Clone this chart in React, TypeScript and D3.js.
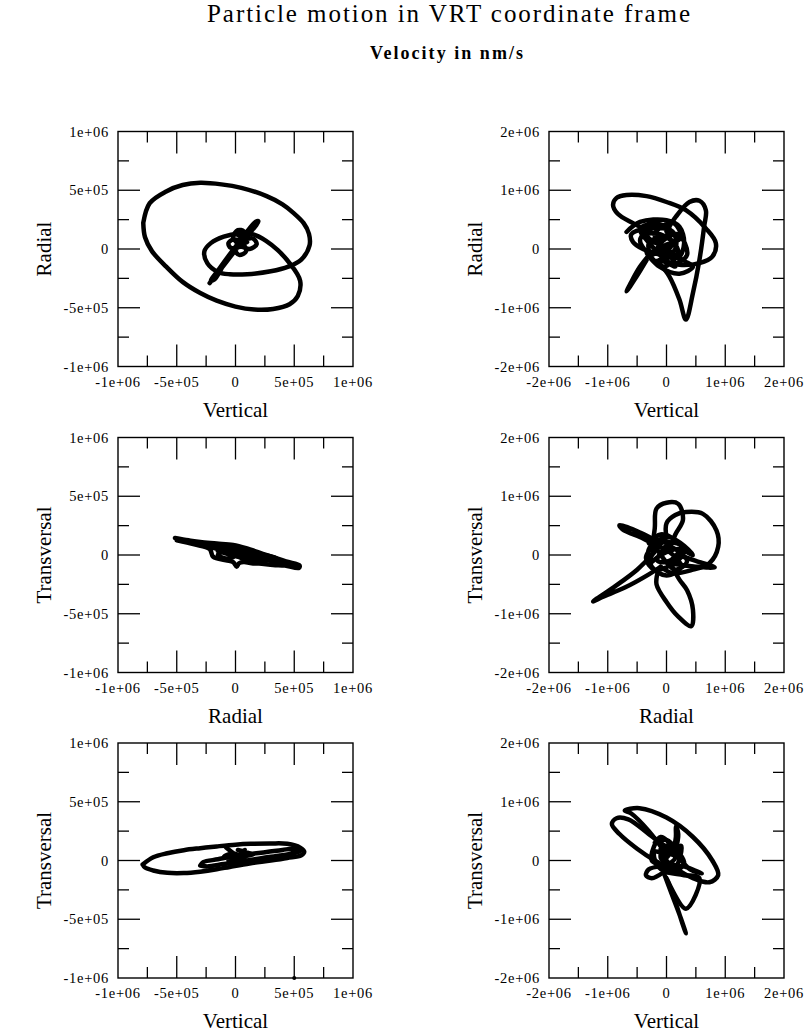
import React from "react";
import * as d3 from "d3";

type Pt = [number, number];

// ---------- axis ticks ----------
const majorSmall = [-1e6, -5e5, 0, 5e5, 1e6];
const minorSmall = [-7.5e5, -2.5e5, 2.5e5, 7.5e5];
const labelsSmall = ["-1e+06", "-5e+05", "0", "5e+05", "1e+06"];
const majorLarge = [-2e6, -1e6, 0, 1e6, 2e6];
const minorLarge = [-1.5e6, -5e5, 5e5, 1.5e6];
const labelsLarge = ["-2e+06", "-1e+06", "0", "1e+06", "2e+06"];

// ---------- panel 1: Vertical vs Radial (left) ----------
const vrLoop: Pt[] = [
  [-7.85e5, 2.23e5], [-7.3e5, 3.9e5], [-5.9e5, 4.9e5], [-4.5e5, 5.45e5], [-3.0e5, 5.63e5],
  [-1.2e5, 5.5e5], [0.5e5, 5.2e5], [2.65e5, 4.5e5], [4.0e5, 3.8e5], [4.9e5, 3.1e5],
  [5.8e5, 2.2e5], [6.25e5, 1.3e5], [6.3e5, 0.3e5], [5.6e5, -0.9e5], [4.5e5, -1.5e5],
  [3.0e5, -1.9e5], [1.0e5, -2.15e5], [-0.5e5, -2.15e5], [-1.5e5, -1.95e5], [-2.4e5, -1.2e5],
  [-2.65e5, -0.2e5], [-2.1e5, 0.5e5], [-1.0e5, 1.05e5], [0.3e5, 1.3e5], [1.5e5, 1.25e5],
  [2.6e5, 0.7e5], [3.6e5, -0.1e5], [4.6e5, -1.2e5], [5.5e5, -2.7e5], [5.3e5, -4.0e5],
  [4.6e5, -4.7e5], [3.2e5, -5.1e5], [1.6e5, -5.15e5], [0, -4.9e5], [-1.6e5, -4.4e5],
  [-3.0e5, -3.75e5], [-4.5e5, -2.8e5], [-5.9e5, -1.5e5], [-7.1e5, -0.2e5], [-7.7e5, 1.0e5],
  [-7.85e5, 2.23e5],
];
const vrCore: Pt[] = [
  [-2.2e5, -2.9e5], [-1.0e5, -1.4e5], [0, -0.1e5], [1.0e5, 1.1e5], [1.95e5, 2.35e5],
  [1.7e5, 2.3e5], [0.7e5, 1.1e5], [-0.3e5, -0.2e5], [-1.4e5, -1.7e5], [-2.1e5, -2.7e5],
  [-1.8e5, -2.6e5], [-0.8e5, -1.0e5], [0.2e5, 0.3e5], [-0.2e5, 1.0e5], [0.2e5, 1.6e5],
  [0.7e5, 1.5e5], [0.8e5, 0.9e5], [1.5e5, 0.9e5], [1.8e5, 0.4e5], [1.2e5, 0.0],
  [0.5e5, 0.2e5], [-0.4e5, 0.1e5], [-0.6e5, 0.5e5], [-0.2e5, 0.8e5], [0.5e5, 0.6e5],
  [0.9e5, -0.2e5], [0.3e5, -0.5e5], [-0.2e5, -0.1e5], [-0.5e5, -0.6e5], [0.4e5, 0.4e5],
  [1.0e5, 0.6e5], [0.2e5, 1.2e5],
];

// ---------- panel 2: Radial vs Transversal (left) ----------
const rtBand: Pt[] = [
  [-5.15e5, 1.45e5], [-4.0e5, 1.25e5], [-3.0e5, 1.1e5], [-1.6e5, 0.98e5], [-0.2e5, 0.85e5],
  [0.9e5, 0.58e5], [2.6e5, 0.0], [4.3e5, -0.55e5], [5.45e5, -0.88e5], [5.4e5, -1.1e5],
  [4.2e5, -0.9e5], [3.2e5, -0.85e5], [2.0e5, -0.72e5], [1.5e5, -0.72e5], [0.7e5, -0.6e5],
  [0.3e5, -0.7e5], [0.1e5, -1.0e5], [-0.2e5, -0.6e5], [-0.8e5, -0.45e5], [-1.9e5, -0.15e5],
  [-2.2e5, 0.5e5], [-3.5e5, 0.9e5], [-5.0e5, 1.25e5],
];
const rtFill: Pt[] = [
  [-4.0e5, 1.1e5], [-2.0e5, 0.7e5], [0, 0.3e5], [2.0e5, -0.3e5], [4.0e5, -0.7e5],
  [5.0e5, -0.95e5], [3.0e5, -0.5e5], [1.0e5, 0.0], [-1.0e5, 0.4e5], [-3.0e5, 0.9e5],
  [-1.5e5, 0.6e5], [0.5e5, -0.2e5], [2.5e5, -0.55e5], [1.0e5, -0.4e5], [-0.5e5, 0.1e5],
  [-1.2e5, 0.2e5], [-1.5e5, 0.0], [-0.5e5, -0.3e5], [0.5e5, 0.5e5], [-1.0e5, 0.75e5],
  [-2.0e5, 0.95e5], [-0.5e5, 0.65e5], [1.5e5, 0.2e5], [3.5e5, -0.3e5], [2.0e5, -0.5e5],
  [0, -0.1e5], [-1.5e5, 0.35e5],
];

// ---------- panel 3: Vertical vs Transversal (left) ----------
const vtOuter: Pt[] = [
  [-7.9e5, -0.34e5], [-7.0e5, 0.28e5], [-5.8e5, 0.62e5], [-4.4e5, 0.88e5], [-3.0e5, 1.05e5],
  [-1.6e5, 1.2e5], [0, 1.35e5], [1.3e5, 1.42e5], [3.0e5, 1.45e5], [4.4e5, 1.42e5],
  [5.5e5, 1.1e5], [5.85e5, 0.75e5], [5.6e5, 0.45e5], [4.4e5, 0.22e5], [3.0e5, 0.0],
  [1.2e5, -0.25e5], [-0.5e5, -0.55e5], [-1.6e5, -0.75e5], [-3.0e5, -0.95e5], [-4.4e5, -1.07e5],
  [-5.8e5, -1.05e5], [-7.0e5, -0.85e5], [-7.7e5, -0.6e5], [-7.9e5, -0.34e5],
];
const vtInner: Pt[] = [
  [-3.0e5, -0.43e5], [-2.75e5, -0.14e5], [-1.5e5, 0.1e5], [-0.2e5, 0.35e5], [1.2e5, 0.55e5],
  [2.65e5, 0.72e5], [4.0e5, 0.9e5], [4.95e5, 1.0e5], [5.5e5, 0.8e5], [4.8e5, 0.6e5],
  [3.8e5, 0.42e5], [2.2e5, 0.2e5], [0.4e5, -0.1e5], [-1.0e5, -0.3e5], [-2.4e5, -0.5e5],
  [-3.0e5, -0.43e5],
];
const vtCore: Pt[] = [
  [-0.8e5, 1.1e5], [0, 0.5e5], [0.9e5, 0.0], [0.4e5, 0.2e5], [-0.2e5, 0.1e5],
  [0.3e5, 0.5e5], [0.8e5, 0.9e5], [0.2e5, 0.4e5], [-0.6e5, 0.0], [0, -0.2e5],
  [0.5e5, 0.3e5], [-0.3e5, 0.6e5], [-1.0e5, 0.3e5], [1.5e5, 0.5e5], [0.2e5, 0.9e5],
];
const vtDot: Pt[] = [[5e5, -1e6]];

// ---------- panel 4: Vertical vs Radial (right) ----------
const vr2Ellipse: Pt[] = [
  [-2.3e5, 2.7e5], [-5.7e5, 4.4e5], [-8.3e5, 6.0e5], [-9.1e5, 7.5e5], [-8.5e5, 8.7e5],
  [-6.8e5, 9.2e5], [-3.4e5, 9.0e5], [0, 8.0e5], [3.3e5, 6.6e5], [6.7e5, 3.5e5],
  [8.4e5, 1.0e5], [7.8e5, -1.3e5], [5.6e5, -2.4e5], [2.2e5, -2.7e5], [-1.2e5, -1.9e5],
];
const vr2Lobe: Pt[] = [
  [0, 3.0e5], [1.6e5, 5.5e5], [3.9e5, 8.0e5], [5.6e5, 8.2e5], [6.7e5, 6.6e5],
  [6.4e5, 3.8e5], [5.6e5, -1.9e5], [4.5e5, -7.5e5], [3.3e5, -1.2e6], [2.2e5, -8.6e5],
  [0.5e5, -4.7e5], [-1.2e5, -2.4e5],
];
const vr2Tail: Pt[] = [
  [-3.4e5, -1.9e5], [-5.1e5, -4.7e5], [-6.8e5, -7.2e5], [-6.2e5, -6.0e5], [-4.5e5, -3.0e5],
  [-2.5e5, -0.5e5],
];
const vr2Core: Pt[] = [
  [-6.8e5, 2.9e5], [-4.5e5, 4.6e5], [0, 4.9e5], [2.2e5, 3.8e5], [3.0e5, 1.0e5],
  [2.0e5, -1.5e5], [-1.0e5, -1.0e5], [-4.0e5, 0], [-5.7e5, 1.2e5], [-6.0e5, 2.5e5],
  [-3.0e5, 3.5e5], [1.0e5, 3.0e5], [1.5e5, 0], [-2.0e5, -2.0e5], [-3.0e5, 1.0e5],
  [0, 2.0e5], [2.0e5, -0.5e5], [-0.5e5, -3.0e5], [-3.4e5, -0.7e5], [-1.2e5, -3.0e5],
  [2.2e5, -4.2e5], [4.5e5, -3.0e5], [3.0e5, -2.0e5], [0, 0], [-2.0e5, 2.5e5],
  [1.0e5, 4.5e5], [2.5e5, 2.0e5], [-0.5e5, 0.5e5], [-2.5e5, -1.0e5], [-4.5e5, 1.5e5],
  [-2.0e5, 4.0e5], [0.5e5, 3.5e5], [-1.5e5, 1.0e5], [-3.5e5, 2.5e5], [-1.0e5, 2.5e5],
  [1.0e5, 1.0e5], [-0.5e5, -1.5e5], [1.5e5, -3.0e5], [0.5e5, -1.0e5], [-1.5e5, 0],
  [-0.5e5, 1.5e5], [2.0e5, 2.5e5], [3.5e5, -1.0e5], [1.0e5, -2.5e5], [-2.5e5, 0.5e5],
  [-4.5e5, 3.5e5], [-1.0e5, 4.2e5], [1.8e5, 1.5e5], [-1.0e5, -0.5e5],
];

// ---------- panel 5: Radial vs Transversal (right) ----------
const rt2Loop: Pt[] = [
  [0, 3.0e5], [0, 5.4e5], [1.5e5, 6.8e5], [3.3e5, 7.3e5], [6.2e5, 7.0e5],
  [8.5e5, 4.2e5], [8.8e5, 1.4e5], [7.3e5, -1.4e5], [4.5e5, -2.5e5], [1.1e5, -3.1e5],
  [-1.0e5, -2.0e5],
];
const rt2Upper: Pt[] = [
  [-2.5e5, 1.0e5], [-2.0e5, 4.5e5], [-1.7e5, 7.9e5], [0, 8.9e5], [2.0e5, 8.7e5],
  [2.8e5, 6.0e5], [1.5e5, 3.5e5], [0.5e5, 1.0e5],
];
const rt2SpikeL: Pt[] = [
  [-1.0e5, 2.0e5], [-4.5e5, 3.8e5], [-8.0e5, 5.1e5], [-7.5e5, 4.4e5], [-4.0e5, 2.8e5],
  [-1.5e5, 1.5e5],
];
const rt2SpikeLL: Pt[] = [
  [-2.0e5, 0.5e5], [-5.0e5, -2.5e5], [-9.0e5, -5.5e5], [-1.25e6, -7.9e5], [-1.1e6, -7.2e5],
  [-7.0e5, -5.5e5], [-3.0e5, -3.3e5], [-1.0e5, -2.0e5],
];
const rt2Lower: Pt[] = [
  [-1.5e5, -3.0e5], [-1.7e5, -5.0e5], [0, -8.0e5], [2.0e5, -1.05e6], [4.2e5, -1.21e6],
  [4.5e5, -9.3e5], [3.5e5, -6.0e5], [2.2e5, -4.2e5], [1.0e5, -2.0e5],
];
const rt2SpikeR: Pt[] = [
  [1.0e5, -1.5e5], [5.0e5, -2.0e5], [8.2e5, -2.1e5], [5.0e5, -1.0e5], [2.0e5, 0],
];
const rt2Core: Pt[] = [
  [-3.0e5, 2.0e5], [-1.0e5, 3.5e5], [1.5e5, 2.5e5], [3.0e5, 0.5e5], [1.0e5, -1.5e5],
  [-2.0e5, -2.5e5], [-3.5e5, -0.5e5], [-2.0e5, 1.5e5], [0.5e5, 0.5e5], [2.5e5, -2.0e5],
  [0, -3.5e5], [-2.5e5, -2.0e5], [-3.0e5, 1.0e5], [0.5e5, 3.0e5], [4.5e5, 0], [2.0e5, 1.0e5],
  [-1.0e5, 0], [-3.0e5, -1.5e5], [-1.0e5, 2.0e5], [2.5e5, 1.5e5], [0.5e5, -1.0e5],
  [-1.5e5, -1.0e5], [0, 1.5e5], [3.5e5, -1.0e5], [1.5e5, -2.5e5], [-1.5e5, 0.8e5],
];

// ---------- panel 6: Vertical vs Transversal (right) ----------
const vt2Ellipse: Pt[] = [
  [0, 1.0e5], [-3.0e5, 5.0e5], [-6.0e5, 8.0e5], [-7.1e5, 8.5e5], [-4.6e5, 8.9e5],
  [0, 7.3e5], [4.5e5, 4.0e5], [7.8e5, 0], [8.8e5, -2.5e5], [7.3e5, -3.7e5],
  [4.5e5, -3.0e5], [1.0e5, -1.0e5],
];
const vt2Left: Pt[] = [
  [1.0e5, 1.5e5], [-3.0e5, 4.5e5], [-6.5e5, 7.0e5], [-8.5e5, 7.2e5], [-9.3e5, 6.2e5],
  [-8.0e5, 4.5e5], [-5.0e5, 2.0e5], [-2.0e5, 0], [0, -1.0e5],
];
const vt2Tri: Pt[] = [
  [0, -3.0e5], [3.3e5, -8.2e5], [5.6e5, -3.0e5], [3.0e5, -2.5e5], [0, -2.0e5],
];
const vt2Spike: Pt[] = [
  [-0.5e5, -2.0e5], [1.0e5, -6.0e5], [2.5e5, -1.0e6], [3.3e5, -1.24e6], [2.8e5, -1.1e6],
  [1.5e5, -7.0e5], [0.2e5, -3.5e5],
];
const vt2Small: Pt[] = [
  [-1.0e5, -1.0e5], [-3.0e5, -1.5e5], [-3.5e5, -2.5e5], [-2.5e5, -3.0e5], [-0.5e5, -2.0e5],
];
const vt2Up: Pt[] = [
  [1.0e5, 1.0e5], [1.6e5, 4.0e5], [1.6e5, 5.8e5], [2.0e5, 4.5e5], [1.5e5, 1.5e5],
];
const vt2Core: Pt[] = [
  [-2.0e5, 3.0e5], [0, 3.5e5], [2.0e5, 1.5e5], [3.0e5, -0.5e5], [1.0e5, -2.0e5],
  [-1.5e5, -1.0e5], [-2.0e5, 1.5e5], [0.5e5, 1.0e5], [2.5e5, 2.5e5], [1.5e5, -1.0e5],
  [-1.0e5, 0.5e5], [0, 2.5e5], [4.0e5, -1.5e5], [6.0e5, -2.2e5], [3.0e5, -1.0e5],
  [0.5e5, -0.5e5], [-1.0e5, 2.0e5], [1.5e5, 0.5e5], [-0.5e5, -1.5e5], [2.0e5, -1.5e5],
  [-2.5e5, 0], [-1.0e5, 4.0e5], [1.0e5, 2.0e5], [-0.5e5, 0],
];

// ---------- layout ----------
const W = 809;
const H = 1032;
const SIZE = 235;
const colX = [118, 549];
const rowY = [131.5, 437.5, 743];
const SERIF = "'Liberation Serif', 'Times New Roman', serif";

interface PanelProps {
  x0: number;
  y0: number;
  lim: number;
  majors: number[];
  minors: number[];
  labels: string[];
  xTitle: string;
  yTitle: string;
  segments: Pt[][];
  dots?: Pt[];
}

function Panel(p: PanelProps) {
  const x = d3.scaleLinear().domain([-p.lim, p.lim]).range([p.x0, p.x0 + SIZE]);
  const y = d3.scaleLinear().domain([-p.lim, p.lim]).range([p.y0 + SIZE, p.y0]);
  const line = d3
    .line<Pt>()
    .x((d) => x(d[0]))
    .y((d) => y(d[1]))
    .curve(d3.curveCatmullRom.alpha(0.5));
  const bottom = p.y0 + SIZE;
  const right = p.x0 + SIZE;
  const MAJ = 22;
  const MIN = 11;
  const tickStroke = { stroke: "#000", strokeWidth: 1.3 };
  return (
    <g>
      {p.segments.map((s, i) => (
        <path
          key={i}
          d={line(s) || ""}
          fill="none"
          stroke="#000"
          strokeWidth={4.5}
          strokeLinejoin="round"
          strokeLinecap="round"
        />
      ))}
      {(p.dots || []).map((d, i) => (
        <circle key={"d" + i} cx={x(d[0])} cy={y(d[1])} r={2} fill="#000" />
      ))}
      <rect x={p.x0} y={p.y0} width={SIZE} height={SIZE} fill="none" stroke="#000" strokeWidth={1.4} />
      {p.majors.slice(1, -1).map((t) => (
        <g key={"M" + t}>
          <line x1={x(t)} x2={x(t)} y1={bottom} y2={bottom - MAJ} {...tickStroke} />
          <line x1={x(t)} x2={x(t)} y1={p.y0} y2={p.y0 + MAJ} {...tickStroke} />
          <line y1={y(t)} y2={y(t)} x1={p.x0} x2={p.x0 + MAJ} {...tickStroke} />
          <line y1={y(t)} y2={y(t)} x1={right} x2={right - MAJ} {...tickStroke} />
        </g>
      ))}
      {p.minors.map((t) => (
        <g key={"m" + t}>
          <line x1={x(t)} x2={x(t)} y1={bottom} y2={bottom - MIN} {...tickStroke} />
          <line x1={x(t)} x2={x(t)} y1={p.y0} y2={p.y0 + MIN} {...tickStroke} />
          <line y1={y(t)} y2={y(t)} x1={p.x0} x2={p.x0 + MIN} {...tickStroke} />
          <line y1={y(t)} y2={y(t)} x1={right} x2={right - MIN} {...tickStroke} />
        </g>
      ))}
      {p.majors.map((t, i) => (
        <text
          key={"xl" + t}
          x={x(t)}
          y={bottom + 20}
          textAnchor="middle"
          fontFamily={SERIF}
          fontSize={14.5}
          letterSpacing={0.7}
          fill="#000"
        >
          {p.labels[i]}
        </text>
      ))}
      {p.majors.map((t, i) => (
        <text
          key={"yl" + t}
          x={p.x0 - 9}
          y={y(t)}
          dy="0.35em"
          textAnchor="end"
          fontFamily={SERIF}
          fontSize={14.5}
          letterSpacing={0.7}
          fill="#000"
        >
          {p.labels[i]}
        </text>
      ))}
      <text
        x={p.x0 + SIZE / 2}
        y={bottom + 50}
        textAnchor="middle"
        fontFamily={SERIF}
        fontSize={21}
        fill="#000"
      >
        {p.xTitle}
      </text>
      <text
        transform={`translate(${p.x0 - 67},${p.y0 + SIZE / 2}) rotate(-90)`}
        textAnchor="middle"
        fontFamily={SERIF}
        fontSize={21}
        fill="#000"
      >
        {p.yTitle}
      </text>
    </g>
  );
}

export default function App() {
  return (
    <svg
      width={W}
      height={H}
      viewBox={`0 0 ${W} ${H}`}
      style={{ position: "absolute", left: 0, top: 0, background: "#fff" }}
    >
      <rect x={0} y={0} width={W} height={H} fill="#fff" />
      <text
        x={448.5}
        y={22}
        textAnchor="middle"
        fontFamily={SERIF}
        fontSize={25}
        textLength={483}
        lengthAdjust="spacing"
        fill="#000"
      >
        Particle motion in VRT coordinate frame
      </text>
      <text
        x={446.5}
        y={59}
        textAnchor="middle"
        fontFamily={SERIF}
        fontWeight="bold"
        fontSize={18}
        textLength={153}
        lengthAdjust="spacing"
        fill="#000"
      >
        Velocity in nm/s
      </text>
      <Panel
        x0={colX[0]} y0={rowY[0]} lim={1e6}
        majors={majorSmall} minors={minorSmall} labels={labelsSmall}
        xTitle="Vertical" yTitle="Radial" segments={[vrLoop, vrCore]}
      />
      <Panel
        x0={colX[1]} y0={rowY[0]} lim={2e6}
        majors={majorLarge} minors={minorLarge} labels={labelsLarge}
        xTitle="Vertical" yTitle="Radial" segments={[vr2Ellipse, vr2Lobe, vr2Tail, vr2Core]}
      />
      <Panel
        x0={colX[0]} y0={rowY[1]} lim={1e6}
        majors={majorSmall} minors={minorSmall} labels={labelsSmall}
        xTitle="Radial" yTitle="Transversal" segments={[rtBand, rtFill]}
      />
      <Panel
        x0={colX[1]} y0={rowY[1]} lim={2e6}
        majors={majorLarge} minors={minorLarge} labels={labelsLarge}
        xTitle="Radial" yTitle="Transversal"
        segments={[rt2Loop, rt2Upper, rt2SpikeL, rt2SpikeLL, rt2Lower, rt2SpikeR, rt2Core]}
      />
      <Panel
        x0={colX[0]} y0={rowY[2]} lim={1e6}
        majors={majorSmall} minors={minorSmall} labels={labelsSmall}
        xTitle="Vertical" yTitle="Transversal" segments={[vtOuter, vtInner, vtCore]}
        dots={vtDot}
      />
      <Panel
        x0={colX[1]} y0={rowY[2]} lim={2e6}
        majors={majorLarge} minors={minorLarge} labels={labelsLarge}
        xTitle="Vertical" yTitle="Transversal"
        segments={[vt2Ellipse, vt2Left, vt2Tri, vt2Spike, vt2Small, vt2Up, vt2Core]}
      />
    </svg>
  );
}
